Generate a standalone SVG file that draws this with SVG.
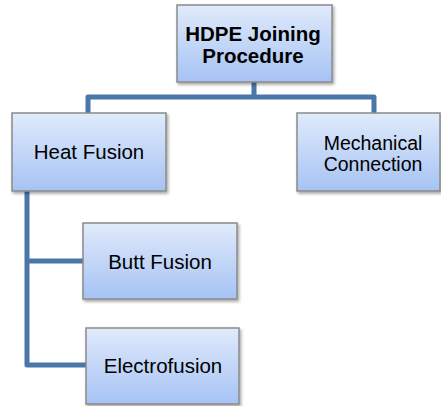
<svg xmlns="http://www.w3.org/2000/svg" width="441" height="406" viewBox="0 0 441 406">
<defs>
<linearGradient id="g" x1="0" y1="0" x2="0" y2="1">
<stop offset="0" stop-color="#e0eafb"/>
<stop offset="1" stop-color="#a6c3f4"/>
</linearGradient>
<filter id="sh" x="-10%" y="-10%" width="130%" height="130%">
<feDropShadow dx="1.5" dy="2" stdDeviation="1.5" flood-color="#000" flood-opacity="0.35"/>
</filter>
</defs>
<style>
.box{fill:url(#g);stroke:#8a8a8a;stroke-width:1.5;filter:url(#sh)}
.t{font-family:"Liberation Sans",Arial,sans-serif;font-size:20.5px;fill:#000;text-anchor:middle}
.s{font-size:19.5px}
.b{font-weight:bold}
.c{fill:none;stroke:#4a77a9;stroke-width:5;stroke-linejoin:round}
</style>
<rect width="441" height="406" fill="#fff"/>
<g id="connectors">
<path class="c" d="M254,82 V97"/>
<path class="c" d="M88,113 V97 H374 V113"/>
<path class="c" d="M27,191 V365 H86"/>
<path class="c" d="M27,261 H83"/>
</g>
<g id="hdpe">
<rect class="box" x="177" y="5" width="155" height="77"/>
<text class="t b" x="253" y="41">HDPE Joining</text>
<text class="t b" x="253" y="63">Procedure</text>
</g>
<g id="heat-fusion">
<rect class="box" x="12" y="113" width="154" height="78"/>
<text class="t" x="89" y="159">Heat Fusion</text>
</g>
<g id="mechanical">
<rect class="box" x="297" y="113" width="143" height="78"/>
<text class="t s" x="373" y="150">Mechanical</text>
<text class="t s" x="373" y="171">Connection</text>
</g>
<g id="butt-fusion">
<rect class="box" x="83" y="223" width="154" height="76"/>
<text class="t" x="160" y="269">Butt Fusion</text>
</g>
<g id="electrofusion">
<rect class="box" x="86" y="328" width="153" height="76"/>
<text class="t" x="163" y="373">Electrofusion</text>
</g>
</svg>
